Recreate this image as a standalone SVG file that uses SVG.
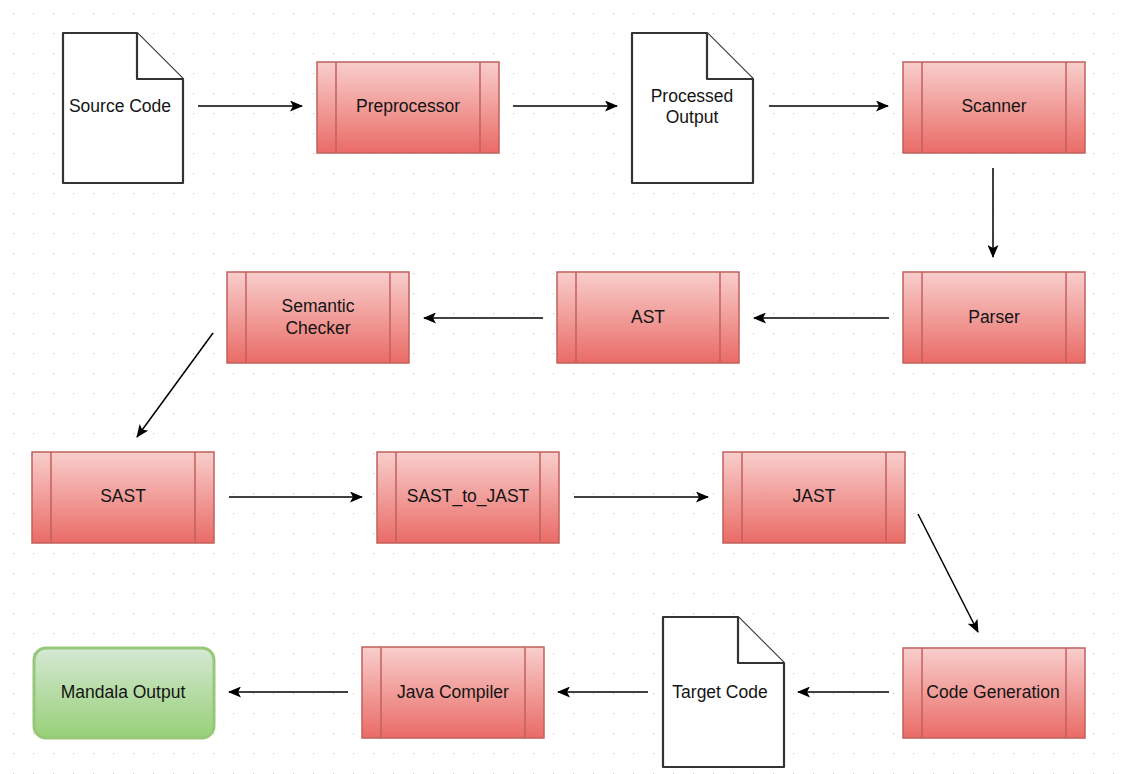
<svg xmlns="http://www.w3.org/2000/svg" width="1131" height="774" viewBox="0 0 1131 774">
<defs>
<pattern id="grid" x="0" y="0" width="20" height="20" patternUnits="userSpaceOnUse">
<rect x="13" y="13" width="1.2" height="1.2" fill="#c8c8c8"/>
</pattern>
<linearGradient id="red" x1="0" y1="0" x2="0" y2="1">
<stop offset="0" stop-color="#f8cecc"/>
<stop offset="1" stop-color="#ea6b66"/>
</linearGradient>
<linearGradient id="green" x1="0" y1="0" x2="0" y2="1">
<stop offset="0" stop-color="#d5e8d4"/>
<stop offset="1" stop-color="#97d077"/>
</linearGradient>
<marker id="arr" markerWidth="13" markerHeight="11" refX="12" refY="5.5" orient="auto" markerUnits="userSpaceOnUse">
<path d="M0,0 L13,5.5 L0,11 L3,5.5 Z" fill="#000"/>
</marker>
</defs>
<style>
.proc{fill:url(#red);stroke:#c0605c;stroke-width:1.5}
.inner{stroke:#c0605c;stroke-width:1.5}
.doc{fill:#fff;stroke:#333;stroke-width:2.2;stroke-linejoin:round}
.lbl{font-family:"Liberation Sans",Arial,sans-serif;font-size:17.5px;fill:#141414;text-anchor:middle;dominant-baseline:central}
.edge{stroke:#000;stroke-width:1.5;fill:none;marker-end:url(#arr)}
</style>
<rect width="1131" height="774" fill="#fff"/>
<rect width="1131" height="774" fill="url(#grid)"/>

<g id="source-code">
<path class="doc" d="M63,33 H137 L183,79 V183 H63 Z"/>
<path class="doc" fill="none" d="M137,33 V79 H183"/>
<text class="lbl" x="120" y="106">Source Code</text>
</g>
<g id="preprocessor">
<rect class="proc" x="317" y="62" width="182" height="91"/>
<line class="inner" x1="336" y1="62" x2="336" y2="153"/><line class="inner" x1="480" y1="62" x2="480" y2="153"/>
<text class="lbl" x="408" y="106">Preprocessor</text>
</g>
<g id="processed-output">
<path class="doc" d="M632,33 H707 L753,79 V183 H632 Z"/>
<path class="doc" fill="none" d="M707,33 V79 H753"/>
<text class="lbl" x="692" y="96">Processed</text>
<text class="lbl" x="692" y="117">Output</text>
</g>
<g id="scanner">
<rect class="proc" x="903" y="62" width="182" height="91"/>
<line class="inner" x1="922" y1="62" x2="922" y2="153"/><line class="inner" x1="1066" y1="62" x2="1066" y2="153"/>
<text class="lbl" x="994" y="106">Scanner</text>
</g>
<g id="parser">
<rect class="proc" x="903" y="272" width="182" height="91"/>
<line class="inner" x1="922" y1="272" x2="922" y2="363"/><line class="inner" x1="1066" y1="272" x2="1066" y2="363"/>
<text class="lbl" x="994" y="317">Parser</text>
</g>
<g id="ast">
<rect class="proc" x="557" y="272" width="182" height="91"/>
<line class="inner" x1="576" y1="272" x2="576" y2="363"/><line class="inner" x1="720" y1="272" x2="720" y2="363"/>
<text class="lbl" x="648" y="317">AST</text>
</g>
<g id="semantic-checker">
<rect class="proc" x="227" y="272" width="182" height="91"/>
<line class="inner" x1="246" y1="272" x2="246" y2="363"/><line class="inner" x1="390" y1="272" x2="390" y2="363"/>
<text class="lbl" x="318" y="306">Semantic</text>
<text class="lbl" x="318" y="328">Checker</text>
</g>
<g id="sast">
<rect class="proc" x="32" y="452" width="182" height="91"/>
<line class="inner" x1="51" y1="452" x2="51" y2="543"/><line class="inner" x1="195" y1="452" x2="195" y2="543"/>
<text class="lbl" x="123" y="496">SAST</text>
</g>
<g id="sast-to-jast">
<rect class="proc" x="377" y="452" width="182" height="91"/>
<line class="inner" x1="396" y1="452" x2="396" y2="543"/><line class="inner" x1="540" y1="452" x2="540" y2="543"/>
<text class="lbl" x="468" y="496">SAST_to_JAST</text>
</g>
<g id="jast">
<rect class="proc" x="723" y="452" width="182" height="91"/>
<line class="inner" x1="742" y1="452" x2="742" y2="543"/><line class="inner" x1="886" y1="452" x2="886" y2="543"/>
<text class="lbl" x="814" y="496">JAST</text>
</g>
<g id="code-generation">
<rect class="proc" x="903" y="648" width="182" height="90"/>
<line class="inner" x1="922" y1="648" x2="922" y2="738"/><line class="inner" x1="1066" y1="648" x2="1066" y2="738"/>
<text class="lbl" x="993" y="692">Code Generation</text>
</g>
<g id="target-code">
<path class="doc" d="M663,617 H738 L784,663 V767 H663 Z"/>
<path class="doc" fill="none" d="M738,617 V663 H784"/>
<text class="lbl" x="720" y="692">Target Code</text>
</g>
<g id="java-compiler">
<rect class="proc" x="362" y="647" width="182" height="91"/>
<line class="inner" x1="381" y1="647" x2="381" y2="738"/><line class="inner" x1="525" y1="647" x2="525" y2="738"/>
<text class="lbl" x="453" y="692">Java Compiler</text>
</g>
<g id="mandala-output">
<rect x="34" y="648" width="180" height="90" rx="12" ry="12" fill="url(#green)" stroke="#97c87a" stroke-width="3"/>
<text class="lbl" x="123" y="692">Mandala Output</text>
</g>

<g id="connectors">
<line class="edge" x1="198" y1="106" x2="302" y2="106"/>
<line class="edge" x1="513" y1="106" x2="617" y2="106"/>
<line class="edge" x1="769" y1="106" x2="888" y2="106"/>
<line class="edge" x1="993" y1="168" x2="993" y2="257"/>
<line class="edge" x1="889" y1="318" x2="754" y2="318"/>
<line class="edge" x1="543" y1="318" x2="424" y2="318"/>
<line class="edge" x1="213" y1="333" x2="137" y2="437"/>
<line class="edge" x1="229" y1="497" x2="362" y2="497"/>
<line class="edge" x1="574" y1="497" x2="708" y2="497"/>
<line class="edge" x1="918" y1="514" x2="978" y2="632"/>
<line class="edge" x1="889" y1="692" x2="798" y2="692"/>
<line class="edge" x1="648" y1="692" x2="558" y2="692"/>
<line class="edge" x1="348" y1="692" x2="229" y2="692"/>
</g>
</svg>
